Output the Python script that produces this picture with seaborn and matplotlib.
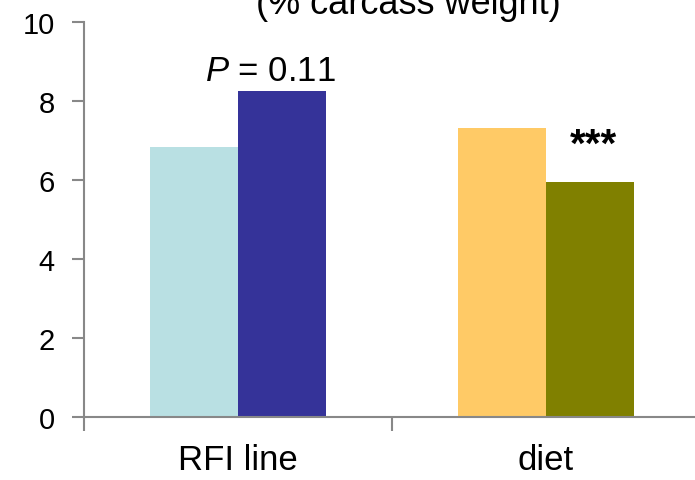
import matplotlib
matplotlib.use("Agg")
import matplotlib.pyplot as plt
import seaborn as sns
import pandas as pd

# values
categories = ["RFI line", "RFI line", "diet", "diet"]
levels = ["first", "second", "first", "second"]
values = [6.84, 8.25, 7.32, 5.94]
bar_colors = ["#B9E0E3", "#353399", "#FFCA66", "#808000"]
y_ticks = [0, 2, 4, 6, 8, 10]
p_label = "$\\it{P}$ = 0.11"
star_label = "***"

df = pd.DataFrame({"category": categories, "level": levels, "value": values})

sns.set_style("white")
plt.rcParams["font.family"] = ["Liberation Sans", "DejaVu Sans"]
plt.rcParams["mathtext.fontset"] = "custom"
plt.rcParams["mathtext.it"] = "Liberation Sans:italic"
plt.rcParams["mathtext.rm"] = "Liberation Sans"
plt.rcParams["text.color"] = "black"
plt.rcParams["xtick.color"] = "black"
plt.rcParams["ytick.color"] = "black"

fig = plt.figure(figsize=(6.95, 4.81), dpi=100)
ax = fig.add_axes([84 / 695, (481 - 418) / 481, 616 / 695, 395 / 481])

sns.barplot(data=df, x="category", y="value", hue="level", width=0.572,
            order=["RFI line", "diet"], hue_order=["first", "second"],
            ax=ax, legend=False, saturation=1, linewidth=0, errorbar=None)

# seaborn draws hue level by level; recolour each bar
patches = sorted(ax.patches, key=lambda p: p.get_x())
for p, c in zip(patches, bar_colors):
    p.set_facecolor(c)
    p.set_edgecolor("none")

ax.set_xlim(-0.5, 1.5)
ax.set_ylim(0, 10)
ax.set_yticks(y_ticks)
ax.set_xticks([-0.5, 0.5, 1.5])
ax.set_xticklabels([])
ax.set_xticks([0, 1], minor=True)
ax.set_xticklabels(["RFI line", "diet"], minor=True)
ax.tick_params(axis="x", which="minor", bottom=True, length=0, pad=19, labelsize=25)
ax.tick_params(axis="x", which="major", bottom=True, length=10, width=1.5, color="#888888", direction="out")
ax.tick_params(axis="y", left=True, length=9, width=1.5, color="#888888", direction="out", labelsize=21, pad=12)
ax.set_xlabel("")
ax.set_ylabel("")

sns.despine(ax=ax)
for s in ["left", "bottom"]:
    ax.spines[s].set_color("#888888")
    ax.spines[s].set_linewidth(1.5)

ax.text(0.106, 8.53, p_label, ha="center", va="baseline", fontsize=25)
ax.text(1.154, 6.62, star_label, ha="center", va="baseline", fontsize=29, fontweight="bold")

fig.text(408 / 695, (481 - 14) / 481, "(% carcass weight)", ha="center", va="baseline", fontsize=26)

fig.savefig("out.png", dpi=100)
